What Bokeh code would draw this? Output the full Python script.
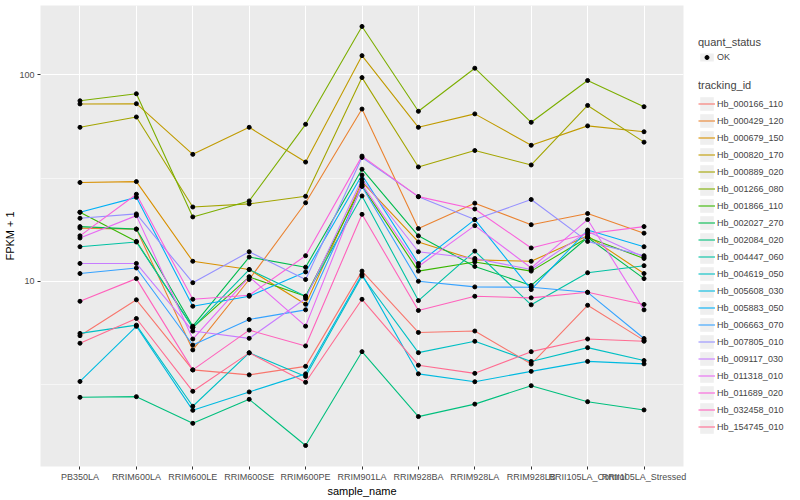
import math
from bokeh.plotting import figure
from bokeh.models import FactorRange, Range1d, FixedTicker, Legend, LegendItem
from bokeh.layouts import row
from bokeh.embed import file_html
from bokeh.resources import INLINE

samples = ["PB350LA", "RRIM600LA", "RRIM600LE", "RRIM600SE", "RRIM600PE", "RRIM901LA",
           "RRIM928BA", "RRIM928LA", "RRIM928LB", "RRII105LA_Control", "RRII105LA_Stressed"]

tracking_ids = ["Hb_000166_110", "Hb_000429_120", "Hb_000679_150", "Hb_000820_170",
                "Hb_000889_020", "Hb_001266_080", "Hb_001866_110", "Hb_002027_270",
                "Hb_002084_020", "Hb_004447_060", "Hb_004619_050", "Hb_005608_030",
                "Hb_005883_050", "Hb_006663_070", "Hb_007805_010", "Hb_009117_030",
                "Hb_011318_010", "Hb_011689_020", "Hb_032458_010", "Hb_154745_010"]

colors = ["#F8766D", "#EA8331", "#D89000", "#C09B00", "#A3A500", "#7CAE00", "#39B600",
          "#00BB4E", "#00BF7D", "#00C1A3", "#00BFC4", "#00BAE0", "#00B0F6", "#35A2FF",
          "#9590FF", "#C77CFF", "#E76BF3", "#FA62DB", "#FF62BC", "#FF6C91"]

# FPKM + 1 per sample (same order as samples)
Hb_000166_110 = [5.45, 8.13, 3.72, 3.52, 3.87, 11.2, 5.65, 5.74, 3.97, 7.65, 5.17]
Hb_000429_120 = [18.1, 17.9, 4.65, 10.2, 24.0, 68.3, 18.0, 23.9, 18.8, 21.3, 17.1]
Hb_000679_150 = [30.1, 30.4, 12.5, 11.4, 7.74, 30.3, 15.5, 12.7, 12.5, 16.6, 10.9]
Hb_000820_170 = [72.3, 72.5, 41.2, 55.7, 37.8, 123.9, 55.7, 64.7, 45.6, 56.6, 53.0]
Hb_000889_020 = [55.7, 62.5, 22.9, 23.7, 25.8, 97.0, 35.8, 43.0, 36.6, 71.1, 47.2]
Hb_001266_080 = [74.9, 81.0, 20.5, 24.5, 57.6, 171.6, 66.6, 107.7, 58.9, 93.9, 70.1]
Hb_001866_110 = [21.6, 15.6, 5.96, 10.5, 8.46, 29.0, 11.2, 12.4, 11.2, 16.3, 12.9]
Hb_002027_270 = [18.4, 17.9, 6.06, 13.1, 11.7, 34.9, 16.6, 11.8, 9.55, 16.3, 10.3]
Hb_002084_020 = [2.74, 2.76, 2.05, 2.68, 1.60, 4.56, 2.21, 2.54, 3.12, 2.61, 2.38]
Hb_004447_060 = [14.7, 15.5, 5.96, 11.4, 8.46, 25.9, 8.06, 14.0, 7.69, 11.0, 11.9]
Hb_004619_050 = [5.59, 6.13, 2.48, 4.50, 3.46, 10.6, 4.51, 5.12, 4.09, 4.77, 4.13]
Hb_005608_030 = [3.27, 6.05, 2.37, 2.91, 3.56, 10.8, 3.56, 3.26, 3.66, 4.09, 3.98]
Hb_005883_050 = [21.6, 25.5, 7.57, 8.46, 11.1, 32.7, 12.2, 19.9, 9.11, 17.7, 14.7]
Hb_006663_070 = [10.9, 11.6, 4.91, 6.53, 7.27, 28.8, 10.0, 9.39, 9.35, 8.84, 5.28]
Hb_007805_010 = [20.2, 21.2, 9.84, 13.9, 10.2, 39.8, 25.7, 19.9, 24.9, 15.6, 13.3]
Hb_009117_030 = [12.2, 12.2, 5.74, 5.29, 8.25, 31.2, 13.9, 12.9, 11.4, 17.4, 13.1]
Hb_011318_010 = [16.2, 20.8, 5.25, 10.5, 6.06, 29.5, 11.8, 18.6, 11.6, 19.9, 7.27]
Hb_011689_020 = [16.6, 26.4, 8.18, 8.55, 13.3, 40.4, 25.7, 22.4, 14.5, 17.0, 18.4]
Hb_032458_010 = [8.00, 10.3, 3.72, 5.80, 4.86, 21.1, 7.22, 8.46, 8.31, 8.84, 7.72]
Hb_154745_010 = [5.01, 6.60, 2.93, 4.50, 3.24, 8.18, 3.92, 3.58, 4.56, 5.25, 5.12]

series = [Hb_000166_110, Hb_000429_120, Hb_000679_150, Hb_000820_170, Hb_000889_020,
          Hb_001266_080, Hb_001866_110, Hb_002027_270, Hb_002084_020, Hb_004447_060,
          Hb_004619_050, Hb_005608_030, Hb_005883_050, Hb_006663_070, Hb_007805_010,
          Hb_009117_030, Hb_011318_010, Hb_011689_020, Hb_032458_010, Hb_154745_010]

FONT = "Liberation Sans"

allv = [v for s in series for v in s]
lmin, lmax = math.log10(min(allv)), math.log10(max(allv))
pad = 0.05 * (lmax - lmin)

p = figure(width=698, height=500,
           x_range=FactorRange(factors=samples, range_padding=0.2, range_padding_units="absolute"),
           y_range=Range1d(10 ** (lmin - pad), 10 ** (lmax + pad)), y_axis_type="log",
           toolbar_location=None, output_backend="svg",
           min_border_left=40, min_border_right=15, min_border_top=5, min_border_bottom=34)
p.background_fill_color = "#EBEBEB"
p.border_fill_color = "white"
p.outline_line_color = None

for s, c in zip(series, colors):
    p.line(x=samples, y=s, line_color=c, line_width=1.1)

px, py = [], []
for s in series:
    px.extend(samples)
    py.extend(s)
p.scatter(x=px, y=py, size=4, marker="circle", fill_color="black", line_color="black")

p.yaxis.ticker = FixedTicker(ticks=[1, 10, 100], minor_ticks=[10 ** 0.5, 10 ** 1.5])
p.yaxis.major_label_overrides = {1: "1", 10: "10", 100: "100"}

p.xgrid.grid_line_color = "white"
p.xgrid.grid_line_width = 1.1
p.ygrid.grid_line_color = "white"
p.ygrid.grid_line_width = 1.1
p.ygrid.minor_grid_line_color = "white"
p.ygrid.minor_grid_line_width = 0.55

for ax in (p.xaxis[0], p.yaxis[0]):
    ax.axis_line_color = None
    ax.major_tick_line_color = "#333333"
    ax.major_tick_out = 3
    ax.major_tick_in = 0
    ax.minor_tick_line_color = None
    ax.major_label_text_font = FONT
    ax.major_label_text_font_size = "9px"
    ax.major_label_text_color = "#4D4D4D"
    ax.major_label_standoff = 2
    ax.axis_label_text_font = FONT
    ax.axis_label_text_font_size = "11px"
    ax.axis_label_text_font_style = "normal"
    ax.axis_label_text_color = "black"
    ax.axis_label_standoff = 0
p.xaxis.axis_label = "sample_name"
p.yaxis.axis_label = "FPKM + 1"

# legend panel (its frame is aligned with the main plot's frame)
lg = figure(width=102, height=500, toolbar_location=None, output_backend="svg",
            x_range=Range1d(0, 1), y_range=Range1d(0, 1),
            x_axis_location=None, y_axis_location=None,
            min_border_left=0, min_border_right=0, min_border_top=5, min_border_bottom=34,
            outline_line_color=None)
lg.grid.visible = False
# key renderers sit outside the visible range; they only feed the legend glyphs
box = lg.quad(left=[5], right=[6], top=[6], bottom=[5], fill_color="#EFEFEF", line_color=None)
dot = lg.scatter(x=[5], y=[5], marker="circle", size=4, fill_color="black", line_color="black")
items2 = []
for tid, c in zip(tracking_ids, colors):
    r = lg.line(x=[5, 6], y=[5, 6], line_color=c, line_width=1.1)
    items2.append(LegendItem(label=tid, renderers=[box, r]))


def style(leg, gh):
    leg.title_text_font = FONT
    leg.title_text_font_size = "11px"
    leg.title_text_font_style = "normal"
    leg.label_text_font = FONT
    leg.label_text_font_size = "9px"
    leg.glyph_width = 17
    leg.glyph_height = gh
    leg.label_height = gh
    leg.spacing = 0
    leg.padding = 0
    leg.margin = 0
    leg.border_line_color = None
    leg.background_fill_alpha = 0
    leg.label_standoff = 2
    leg.title_standoff = 4


leg1 = Legend(items=[LegendItem(label="OK", renderers=[box, dot])], title="quant_status",
              location=(0, 404))
style(leg1, 10)
leg2 = Legend(items=items2, title="tracking_id", location=(0, 31))
style(leg2, 17)
lg.add_layout(leg1)
lg.add_layout(leg2)

open("out.html", "w").write(file_html(row(p, lg), INLINE))
